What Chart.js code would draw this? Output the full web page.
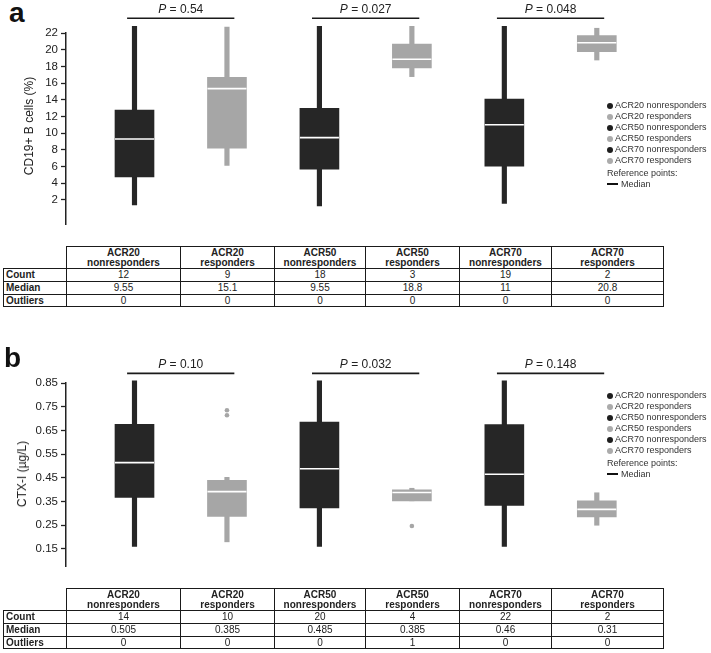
<!DOCTYPE html>
<html>
<head>
<meta charset="utf-8">
<script src="https://cdn.jsdelivr.net/npm/chart.js@4/dist/chart.umd.min.js"></script>
<style>
  body { margin: 0; background: #fff; }
  #fig { position: relative; width: 711px; height: 653px; font-family: "Liberation Sans", Arial, sans-serif; color: #222; }
  canvas { position: absolute; left: 0; }
  .letter { position: absolute; font-weight: bold; font-size: 28px; line-height: 1; color: #111; }
  .ytitle { position: absolute; font-size: 12px; white-space: nowrap; transform: translate(-50%, -50%) rotate(-90deg); }
  .legend { position: absolute; left: 607px; font-size: 9px; line-height: 11.1px; color: #333; white-space: nowrap; }
  .legend .dot { display: inline-block; width: 6px; height: 6px; border-radius: 50%; margin-right: 2px; vertical-align: -0.5px; }
  .legend .ref { margin-top: 1.5px; }
  .legend .mline { display: inline-block; width: 11px; height: 2px; background: #111; margin-right: 3px; vertical-align: 2.5px; }
  table.stats { position: absolute; left: 3px; width: 660px; border-collapse: collapse; table-layout: fixed; font-size: 10px; color: #222; }
  table.stats td { border: 1px solid #1a1a1a; padding: 0; text-align: center; height: 11.8px; line-height: 11px; }
  table.stats tr.hdr td { height: 21px; font-weight: bold; line-height: 9.5px; }
  table.stats tr.hdr td.blank { border-top: none; border-left: none; }
  table.stats td.lab { text-align: left; padding-left: 2px; font-weight: bold; }
</style>
</head>
<body>
<div id="fig">
  <div class="letter" style="left:9px; top:-1px;">a</div>
  <canvas id="chartA" width="711" height="246" style="top:0;"></canvas>
  <div class="ytitle" style="left:29px; top:126px;">CD19+ B cells (%)</div>
  <div class="legend" id="legendA" style="top:100px;"></div>
  <table class="stats" id="tableA" style="top:246px;"></table>

  <div class="letter" style="left:4px; top:344px;">b</div>
  <canvas id="chartB" width="711" height="248" style="top:340px;"></canvas>
  <div class="ytitle" style="left:22px; top:474px;">CTX-I (µg/L)</div>
  <div class="legend" id="legendB" style="top:390px;"></div>
  <table class="stats" id="tableB" style="top:588px;"></table>
</div>
<script>
// groups (same for both panels)
const groupTop = ['ACR20', 'ACR20', 'ACR50', 'ACR50', 'ACR70', 'ACR70'];
const groupBottom = ['nonresponders', 'responders', 'nonresponders', 'responders', 'nonresponders', 'responders'];
const groupPos = [1, 2, 3, 4, 5, 6];
const dark = '#262626';
const grey = '#a6a6a6';
const groupColors = [dark, grey, dark, grey, dark, grey];
const rowLabels = ['Count', 'Median', 'Outliers'];
const pairs = [[1, 2], [3, 4], [5, 6]];

// panel a : CD19+ B cells (%)
const aWhiskerLow  = [1.4, 6.14, 1.28, 16.77, 1.57, 18.76];
const aWhiskerHigh = [22.8, 22.7, 22.8, 22.8, 22.8, 22.57];
const aQ1          = [4.74, 8.2, 5.67, 17.82, 6.03, 19.76];
const aQ3          = [12.77, 16.7, 12.98, 20.66, 14.07, 21.7];
const aMedian      = [9.3, 15.33, 9.46, 18.86, 11.0, 20.84];
const aTicks       = [2, 4, 6, 8, 10, 12, 14, 16, 18, 20, 22];
const aTickLabels  = ['2', '4', '6', '8', '10', '12', '14', '16', '18', '20', '22'];
const aPValues     = ['0.54', '0.027', '0.048'];
const aBracket     = 23.76;
const aCount       = ['12', '9', '18', '3', '19', '2'];
const aMedianText  = ['9.55', '15.1', '9.55', '18.8', '11', '20.8'];
const aOutliers    = ['0', '0', '0', '0', '0', '0'];

// panel b : CTX-I (µg/L)
const bWhiskerLow  = [0.161, 0.180, 0.161, 0.353, 0.161, 0.250];
const bWhiskerHigh = [0.859, 0.452, 0.859, 0.406, 0.859, 0.387];
const bQ1          = [0.367, 0.287, 0.323, 0.353, 0.334, 0.285];
const bQ3          = [0.676, 0.439, 0.685, 0.399, 0.675, 0.353];
const bMedian      = [0.514, 0.392, 0.488, 0.388, 0.465, 0.317];
const bOutlierX    = [2, 2, 4];
const bOutlierY    = [0.735, 0.714, 0.247];
const bTicks       = [0.15, 0.25, 0.35, 0.45, 0.55, 0.65, 0.75, 0.85];
const bTickLabels  = ['0.15', '0.25', '0.35', '0.45', '0.55', '0.65', '0.75', '0.85'];
const bPValues     = ['0.10', '0.032', '0.148'];
const bBracket     = 0.8905;
const bCount       = ['14', '10', '20', '4', '22', '2'];
const bMedianText  = ['0.505', '0.385', '0.485', '0.385', '0.46', '0.31'];
const bOutliers    = ['0', '0', '0', '1', '0', '0'];

const fontFamily = '"Liberation Sans", Arial, sans-serif';
Chart.defaults.font.family = fontFamily;

// P = ... labels above the brackets
const pLabelPlugin = {
  id: 'pLabels',
  afterDatasetsDraw(chart, args, opts) {
    const ctx = chart.ctx;
    const x = chart.scales.x, y = chart.scales.y;
    opts.pairs.forEach((p, i) => {
      const cx = x.getPixelForValue((p[0] + p[1]) / 2);
      const py = y.getPixelForValue(opts.y) - 5;
      const rest = ' = ' + opts.labels[i];
      ctx.save();
      ctx.fillStyle = '#222';
      ctx.textBaseline = 'alphabetic';
      ctx.textAlign = 'left';
      ctx.font = 'italic 12px ' + fontFamily;
      const wP = ctx.measureText('P').width;
      ctx.font = '12px ' + fontFamily;
      const wR = ctx.measureText(rest).width;
      const sx = cx - (wP + wR) / 2;
      ctx.font = 'italic 12px ' + fontFamily;
      ctx.fillText('P', sx, py);
      ctx.font = '12px ' + fontFamily;
      ctx.fillText(rest, sx + wP, py);
      ctx.restore();
    });
  }
};

function buildChart(id, d) {
  const datasets = [];
  // medians
  datasets.push({
    type: 'line', order: 0, showLine: false, clip: false,
    data: groupPos.map((x, i) => ({ x: x, y: d.median[i] })),
    pointStyle: 'line', pointRadius: 19.5, pointBorderWidth: 1.6, pointBorderColor: '#fff'
  });
  // outliers
  if (d.outX) {
    datasets.push({
      type: 'line', order: 1, showLine: false, clip: false,
      data: d.outX.map((x, i) => ({ x: x, y: d.outY[i] })),
      pointRadius: 2.3, pointBackgroundColor: grey, pointBorderWidth: 0
    });
  }
  // boxes
  datasets.push({
    type: 'bar', order: 2, grouped: false, clip: false,
    data: groupPos.map((x, i) => ({ x: x, y: [d.q1[i], d.q3[i]] })),
    backgroundColor: groupColors, borderWidth: 0,
    barThickness: 39, maxBarThickness: 39
  });
  // whiskers
  datasets.push({
    type: 'bar', order: 3, grouped: false, clip: false,
    data: groupPos.map((x, i) => ({ x: x, y: [d.wLow[i], d.wHigh[i]] })),
    backgroundColor: groupColors, borderWidth: 0,
    barThickness: 4.5, maxBarThickness: 4.5
  });
  // brackets
  pairs.forEach(p => {
    datasets.push({
      type: 'line', order: 4, clip: false,
      data: [{ x: p[0] - 0.08, y: d.bracket }, { x: p[1] + 0.08, y: d.bracket }],
      borderColor: '#1a1a1a', borderWidth: 1.6, pointRadius: 0
    });
  });

  return new Chart(document.getElementById(id), {
    type: 'bar',
    data: { datasets: datasets },
    options: {
      responsive: false,
      animation: false,
      events: [],
      layout: { padding: { top: d.padTop, right: 48, left: 0, bottom: 0 } },
      plugins: {
        legend: { display: false },
        tooltip: { enabled: false },
        pLabels: { pairs: pairs, labels: d.pValues, y: d.bracket }
      },
      scales: {
        x: { type: 'linear', min: 0.2592, max: 6.716, offset: false, display: false },
        y: {
          type: 'linear', min: d.yMin, max: d.yMax,
          afterBuildTicks: s => { s.ticks = d.ticks.map(v => ({ value: v })); },
          afterFit: s => { s.width = 66; s.paddingTop = 0; s.paddingBottom = 0; },
          ticks: {
            autoSkip: false, padding: 3, color: '#222',
            font: { size: 11.5 },
            callback: (v, i) => d.tickLabels[i]
          },
          grid: { drawOnChartArea: false, tickLength: 5, color: '#222', tickWidth: 1.3 },
          border: { display: true, color: '#222', width: 1.5 }
        }
      }
    },
    plugins: [pLabelPlugin]
  });
}

function buildLegend(id) {
  const el = document.getElementById(id);
  let html = '';
  groupTop.forEach((g, i) => {
    const c = groupColors[i] === dark ? '#1e1e1e' : '#ababab';
    html += '<div><span class="dot" style="background:' + c + '"></span>' + g + ' ' + groupBottom[i] + '</div>';
  });
  html += '<div class="ref">Reference points:</div>';
  html += '<div><span class="mline"></span>Median</div>';
  el.innerHTML = html;
}

function buildTable(id, count, med, outl) {
  const el = document.getElementById(id);
  const widths = [63, 114, 94, 91, 94, 92, 112];
  let html = '<colgroup>' + widths.map(w => '<col style="width:' + w + 'px">').join('') + '</colgroup>';
  html += '<tr class="hdr"><td class="blank"></td>' +
    groupTop.map((g, i) => '<td>' + g + '<br>' + groupBottom[i] + '</td>').join('') + '</tr>';
  [count, med, outl].forEach((row, r) => {
    html += '<tr><td class="lab">' + rowLabels[r] + '</td>' + row.map(v => '<td>' + v + '</td>').join('') + '</tr>';
  });
  el.innerHTML = html;
}

buildChart('chartA', {
  median: aMedian, q1: aQ1, q3: aQ3, wLow: aWhiskerLow, wHigh: aWhiskerHigh,
  ticks: aTicks, tickLabels: aTickLabels, pValues: aPValues, bracket: aBracket,
  yMin: -1, yMax: 22, padTop: 33
});
buildChart('chartB', {
  median: bMedian, q1: bQ1, q3: bQ3, wLow: bWhiskerLow, wHigh: bWhiskerHigh,
  outX: bOutlierX, outY: bOutlierY,
  ticks: bTicks, tickLabels: bTickLabels, pValues: bPValues, bracket: bBracket,
  yMin: 0.0743, yMax: 0.85, padTop: 43
});
buildLegend('legendA');
buildLegend('legendB');
buildTable('tableA', aCount, aMedianText, aOutliers);
buildTable('tableB', bCount, bMedianText, bOutliers);
</script>
</body>
</html>
